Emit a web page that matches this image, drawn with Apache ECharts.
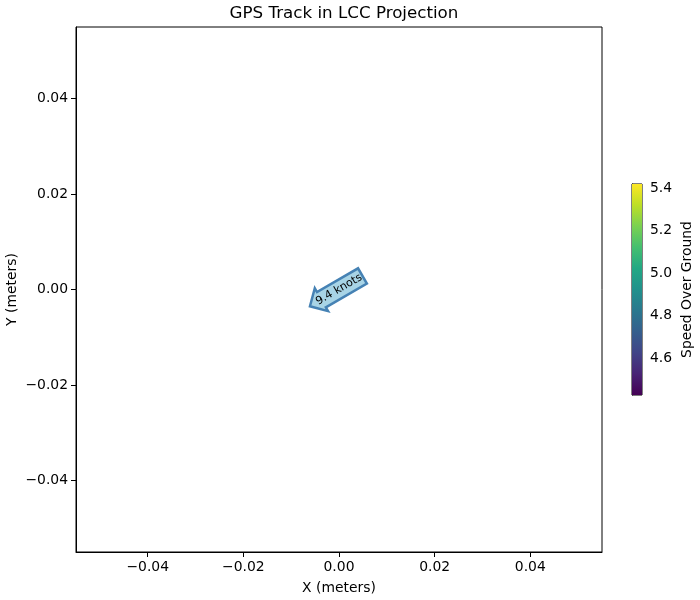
<!DOCTYPE html>
<html>
<head>
<meta charset="utf-8">
<title>GPS Track in LCC Projection</title>
<script src="https://cdn.jsdelivr.net/npm/echarts@6/dist/echarts.min.js"></script>
<style>
  html, body { margin: 0; padding: 0; background: #fff; }
  #chart { width: 700px; height: 600px; }
</style>
</head>
<body>
<div id="chart"></div>
<script>
// track points (projected, metres) and the annotated speed
const trackX = [0.0];
const trackY = [0.0];
const trackLabel = ['9.4 knots'];

// axis extent and ticks
const axisRange = [-0.055, 0.055];
const axisTicks = [-0.04, -0.02, 0.0, 0.02, 0.04];

// colorbar (speed over ground)
const cbarRange = [4.426, 5.419];
const cbarTicks = [4.6, 4.8, 5.0, 5.2, 5.4];

const viridis = ['#440154', '#482475', '#414487', '#355f8d', '#2a788e', '#21918c',
  '#22a884', '#44bf70', '#7ad151', '#bddf26', '#fde725'];

const FONT = 'DejaVu Sans';
const chart = echarts.init(document.getElementById('chart'));

function fmt(v) {
  return (v < 0 ? '\u2212' : '') + Math.abs(v).toFixed(2);
}

// matplotlib "larrow" box around centred text
function larrowPoints(w, h, pad) {
  let x0 = -w / 2 - pad, x1 = w / 2 + pad;
  const y0 = -h / 2 - pad, y1 = h / 2 + pad;
  const dx = (y1 - y0) / 2;
  const dxx = dx / 2;
  x0 = x0 + pad / 1.4;
  const pts = [
    [x0 + dxx, y0], [x1, y0], [x1, y1], [x0 + dxx, y1],
    [x0 + dxx, y1 + dxx], [x0 - dx, y0 + dx], [x0 + dxx, y0 - dxx]
  ];
  return pts.map(p => [p[0], -p[1]]);
}

const axisCommon = {
  type: 'value',
  min: axisRange[0],
  max: axisRange[1],
  splitLine: { show: false },
  axisLine: { show: true, onZero: false, lineStyle: { color: '#000', width: 1 } },
  axisTick: { show: true, customValues: axisTicks, length: 5, lineStyle: { color: '#000', width: 1 } },
  axisLabel: {
    customValues: axisTicks,
    formatter: fmt,
    color: '#000',
    fontFamily: FONT,
    fontSize: 13.9,
    margin: 8
  },
  nameLocation: 'middle',
  nameMoveOverlap: false,
  nameTextStyle: { color: '#000', fontFamily: FONT, fontSize: 13.9 }
};

chart.setOption({
  animation: false,
  title: {
    text: 'GPS Track in LCC Projection',
    left: 339,
    textAlign: 'center',
    top: 0,
    textStyle: { color: '#000', fontFamily: FONT, fontSize: 16.7, fontWeight: 'normal' }
  },
  grid: [
    { left: 76, right: 98, top: 27, bottom: 48, show: true, borderColor: '#000', borderWidth: 1, outerBoundsMode: 'none', containLabel: false },
    { left: 632, width: 10, top: 184, height: 211, show: true, borderColor: '#000', borderWidth: 1, outerBoundsMode: 'none', containLabel: false }
  ],
  xAxis: [
    Object.assign({}, axisCommon, { gridIndex: 0, name: 'X (meters)', nameGap: 29 }),
    { gridIndex: 1, type: 'value', min: 0, max: 1, show: false }
  ],
  yAxis: [
    Object.assign({}, axisCommon, { gridIndex: 0, name: 'Y (meters)', nameGap: 57, nameRotate: 90 }),
    {
      gridIndex: 1,
      type: 'value',
      position: 'right',
      min: cbarRange[0],
      max: cbarRange[1],
      splitLine: { show: false },
      axisLine: { show: true, lineStyle: { color: '#000', width: 1 } },
      axisTick: { show: true, customValues: cbarTicks, length: 5, lineStyle: { color: '#000' } },
      axisLabel: {
        customValues: cbarTicks,
        formatter: v => v.toFixed(1),
        color: '#000',
        fontFamily: FONT,
        fontSize: 13.9,
        margin: 8
      },
      name: 'Speed Over Ground',
      nameLocation: 'middle',
      nameMoveOverlap: false,
      nameRotate: 90,
      nameGap: 38,
      nameTextStyle: { color: '#000', fontFamily: FONT, fontSize: 13.9 }
    }
  ],
  series: [
    {
      type: 'custom',
      xAxisIndex: 0,
      yAxisIndex: 0,
      data: trackX.map((x, i) => [x, trackY[i]]),
      clip: false,
      renderItem: function (params, api) {
        const pt = api.coord([api.value(0), api.value(1)]);
        const label = trackLabel[params.dataIndex];
        const fontSize = 11.1;
        const w = echarts.format.getTextRect
          ? echarts.format.getTextRect(label, fontSize + 'px ' + FONT).width
          : 52;
        const pad = 0.3 * fontSize;
        return {
          type: 'group',
          x: pt[0],
          y: pt[1],
          rotation: 30 * Math.PI / 180,
          children: [
            {
              type: 'polygon',
              shape: { points: larrowPoints(w - 4, 11, pad) },
              style: { fill: '#a8d4e6', stroke: '#4682b4', lineWidth: 2.5, lineJoin: 'miter' }
            },
            {
              type: 'text',
              style: {
                text: label,
                x: 0,
                y: 0,
                align: 'center',
                verticalAlign: 'middle',
                fill: '#000',
                font: fontSize + 'px ' + FONT
              }
            }
          ]
        };
      }
    },
    {
      type: 'custom',
      xAxisIndex: 1,
      yAxisIndex: 1,
      data: [[0, cbarRange[0], 1, cbarRange[1]]],
      renderItem: function (params, api) {
        const a = api.coord([api.value(0), api.value(1)]);
        const b = api.coord([api.value(2), api.value(3)]);
        const stops = viridis.map((c, i) => ({ offset: i / (viridis.length - 1), color: c }));
        return {
          type: 'rect',
          shape: { x: a[0], y: b[1], width: b[0] - a[0], height: a[1] - b[1] },
          style: { fill: new echarts.graphic.LinearGradient(0, 1, 0, 0, stops) }
        };
      }
    }
  ]
});
</script>
</body>
</html>
